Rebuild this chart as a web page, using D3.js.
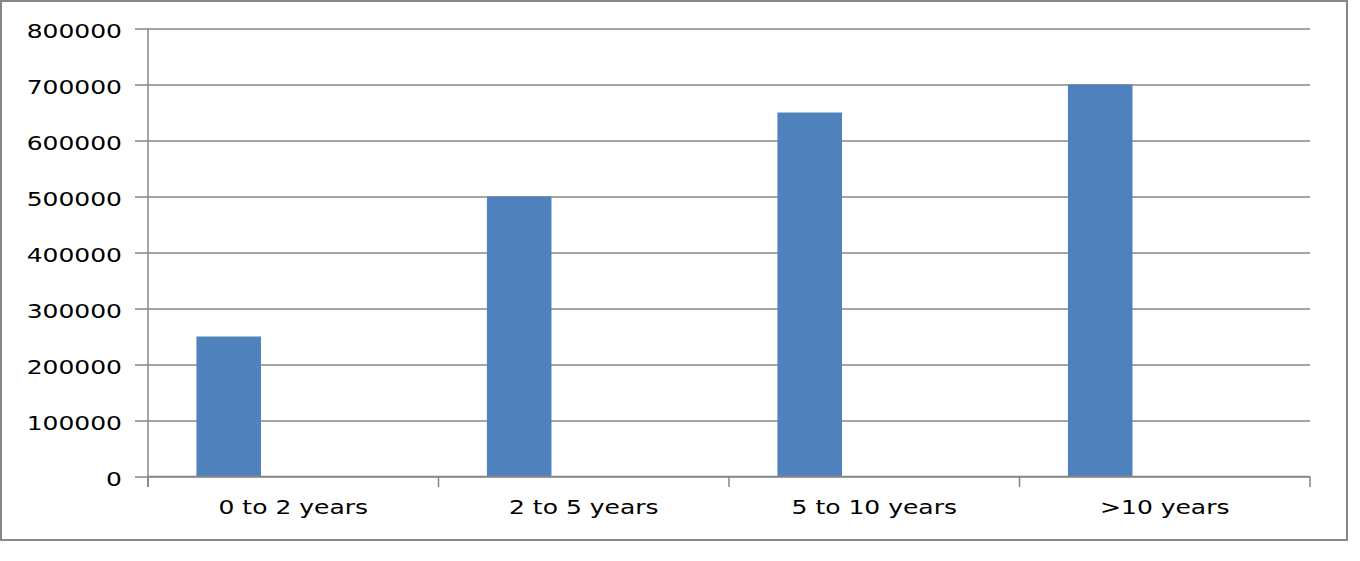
<!DOCTYPE html>
<html>
<head>
<meta charset="utf-8">
<script src="https://cdn.jsdelivr.net/npm/d3@7"></script>
<style>
    body { margin: 0; background: #fff; }
    text { font-family: "DejaVu Sans", Verdana, sans-serif; font-size: 20px; fill: #000; }
</style>
</head>
<body>
<div id="chart"></div>
<script>
const width = 1360
const height = 561
const margin = {
    top: 28.5,
    bottom: 84.5,
    left: 148,
    right: 50
}
const stretch = 1.25   // the original picture is stretched sideways

const categories = ["0 to 2 years", "2 to 5 years", "5 to 10 years", ">10 years"]
const seriesSlots = ["Series1", "Series2", "Series3"]   // only Series1 has values
const values = [250000, 500000, 650000, 700000]
const yTicks = [0, 100000, 200000, 300000, 400000, 500000, 600000, 700000, 800000]

const svg = d3.select("#chart").append("svg").attr("width", width).attr("height", height)

// outer frame
svg.append("rect")
    .attr("x", 1).attr("y", 1)
    .attr("width", 1346).attr("height", 539)
    .attr("fill", "none").attr("stroke", "#868686").attr("stroke-width", 2)

const x0 = margin.left
const x1 = width - margin.right
const yBottom = height - margin.bottom

let x = d3.scaleBand().domain(categories).range([x0, x1]).padding(0)
let xs = d3.scaleBand().domain(seriesSlots).range([0, x.bandwidth()]).paddingInner(0).paddingOuter(0.75)
let y = d3.scaleLinear().domain([0, 800000]).range([yBottom, margin.top])

// gridlines
const gridGroup = svg.append("g").attr("id", "gridGroup").attr("transform", `translate(${x0}, 0)`)
gridGroup.call(d3.axisLeft(y).tickValues(yTicks).tickSize(-(x1 - x0)).tickFormat(""))
gridGroup.select(".domain").remove()
gridGroup.selectAll("line").attr("stroke", "#868686").attr("stroke-width", 1.5)

// bars
const elementGroup = svg.append("g").attr("id", "elementGroup")
elementGroup.selectAll("rect").data(values).enter().append("rect")
    .attr("x", (d, i) => x(categories[i]) + xs("Series1"))
    .attr("y", d => y(d))
    .attr("width", xs.bandwidth())
    .attr("height", d => y(0) - y(d))
    .attr("fill", "#4F81BD")

// y axis
const yAxisGroup = svg.append("g").attr("id", "yAxisGroup").attr("transform", `translate(${x0}, 0)`)
yAxisGroup.call(d3.axisLeft(y).tickValues(yTicks).tickSizeInner(13).tickSizeOuter(0).tickFormat(d3.format("d")))
yAxisGroup.select(".domain").remove()
yAxisGroup.selectAll("line").attr("stroke", "#868686").attr("stroke-width", 1.5)
yAxisGroup.selectAll("text")
    .attr("x", -26 / stretch)
    .attr("dy", "0.43em")
    .attr("transform", `scale(${stretch}, 1)`)
    .attr("fill", "#000")

svg.append("line")
    .attr("x1", x0).attr("x2", x0)
    .attr("y1", margin.top).attr("y2", yBottom + 10.5)
    .attr("stroke", "#868686").attr("stroke-width", 1.5)

// x axis
const xAxisGroup = svg.append("g").attr("id", "xAxisGroup").attr("transform", `translate(0, ${yBottom})`)
xAxisGroup.call(d3.axisBottom(x).tickSize(0).tickSizeOuter(0))
xAxisGroup.select(".domain").remove()
xAxisGroup.selectAll("text")
    .attr("y", 38)
    .attr("dy", 0)
    .attr("transform", `scale(${stretch}, 1)`)
    .attr("fill", "#000")

xAxisGroup.append("line")
    .attr("x1", x0).attr("x2", x1)
    .attr("stroke", "#868686").attr("stroke-width", 1.5)

const bounds = categories.map(c => x(c)).concat([x1])
xAxisGroup.selectAll("line.bound").data(bounds).enter().append("line")
    .attr("class", "bound")
    .attr("x1", d => d).attr("x2", d => d)
    .attr("y1", 0).attr("y2", 10.5)
    .attr("stroke", "#868686").attr("stroke-width", 1.5)
</script>
</body>
</html>
